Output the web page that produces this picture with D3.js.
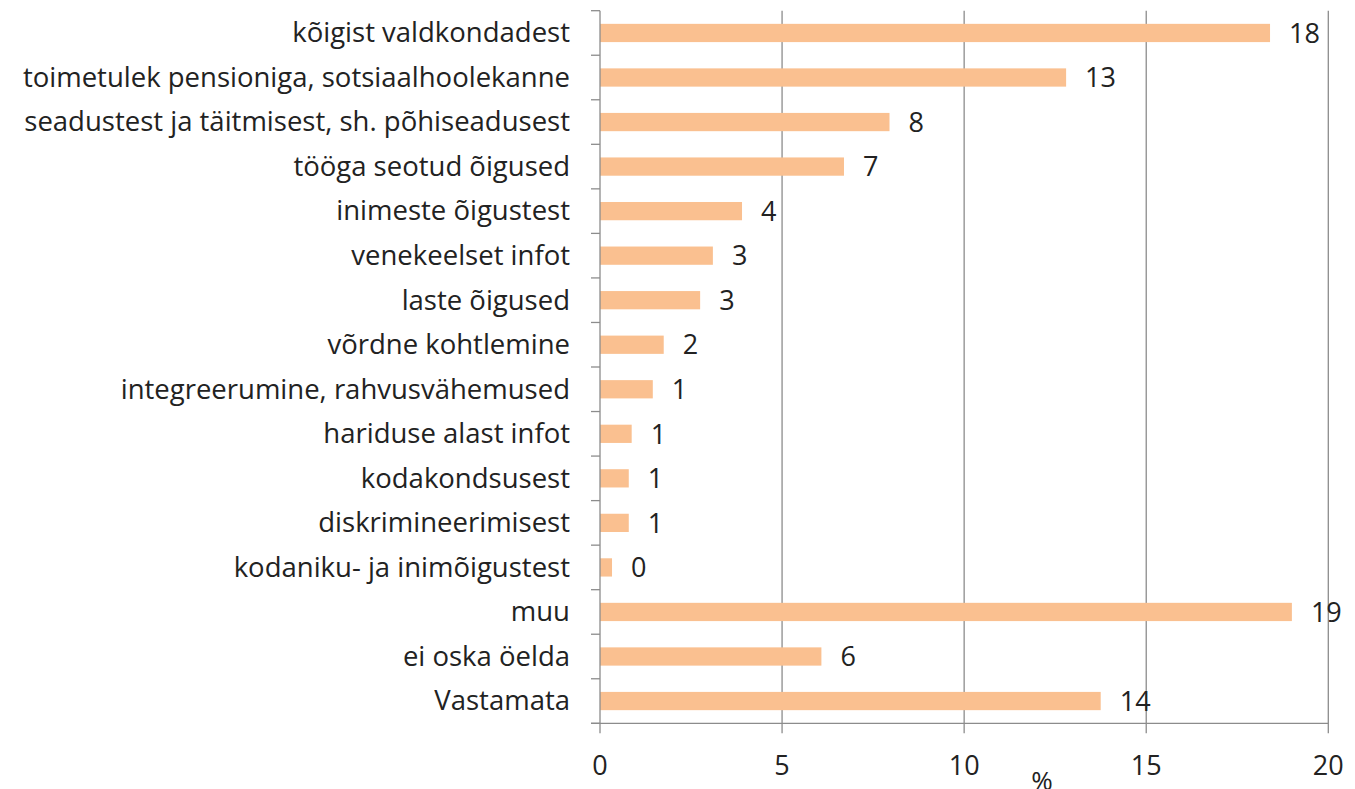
<!DOCTYPE html>
<meta charset="utf-8">
<style>
body { margin: 0; background: #fff; }
text { font-family: "Open Sans", sans-serif; fill: #222; }
.cat { font-size: 27.5px; text-anchor: end; }
.val { font-size: 27px; }
.tick-label { font-size: 27px; text-anchor: middle; }
</style>
<svg width="1355" height="789"></svg>
<script src="https://d3js.org/d3.v7.min.js"></script>
<script>

var categories = [
  "kõigist valdkondadest",
  "toimetulek pensioniga, sotsiaalhoolekanne",
  "seadustest ja täitmisest, sh. põhiseadusest",
  "tööga seotud õigused",
  "inimeste õigustest",
  "venekeelset infot",
  "laste õigused",
  "võrdne kohtlemine",
  "integreerumine, rahvusvähemused",
  "hariduse alast infot",
  "kodakondsusest",
  "diskrimineerimisest",
  "kodaniku- ja inimõigustest",
  "muu",
  "ei oska öelda",
  "Vastamata"
];
var values = [18.4, 12.8, 7.95, 6.7, 3.9, 3.1, 2.75, 1.75, 1.45, 0.87, 0.79, 0.79, 0.33, 19.0, 6.08, 13.75];
var xTicks = [0, 5, 10, 15, 20];

var svg = d3.select("svg"),
    plotLeft = 600, plotRight = 1328.3, plotTop = 10.7, plotBottom = 723.3;

var x = d3.scaleLinear().domain([0, 20]).range([plotLeft, plotRight]);
var y = d3.scaleBand().domain(categories).range([plotTop, plotBottom]).padding(0);

var g = svg.append("g");

// gridlines
g.selectAll(".grid")
  .data(xTicks.slice(1))
  .enter().append("line")
    .attr("x1", function(d) { return x(d); })
    .attr("x2", function(d) { return x(d); })
    .attr("y1", plotTop)
    .attr("y2", plotBottom + 10)
    .attr("stroke", "#8c8c8c")
    .attr("stroke-width", 1.3);

// bars
var bh = y.bandwidth() * 0.41;
g.selectAll(".bar")
  .data(values)
  .enter().append("rect")
    .attr("x", x(0))
    .attr("y", function(d, i) { return y(categories[i]) + y.bandwidth() / 2 - bh / 2; })
    .attr("width", function(d) { return x(d) - x(0); })
    .attr("height", bh)
    .attr("fill", "#FAC090");

// data labels
g.selectAll(".val")
  .data(values)
  .enter().append("text")
    .attr("class", "val")
    .attr("x", function(d) { return x(d) + 19; })
    .attr("y", function(d, i) { return y(categories[i]) + y.bandwidth() / 2; })
    .attr("dy", "0.36em")
    .text(function(d) { return Math.round(d); });

// category labels
g.selectAll(".cat")
  .data(categories)
  .enter().append("text")
    .attr("class", "cat")
    .attr("x", 570)
    .attr("y", function(d) { return y(d) + y.bandwidth() / 2; })
    .attr("dy", "0.34em")
    .text(function(d) { return d; });

// y axis line + ticks between categories
g.append("line")
  .attr("x1", plotLeft).attr("x2", plotLeft)
  .attr("y1", plotTop).attr("y2", plotBottom + 10)
  .attr("stroke", "#8c8c8c").attr("stroke-width", 1.3);
var bounds = categories.map(function(c) { return y(c); }).concat([plotBottom]);
g.selectAll(".ytick")
  .data(bounds)
  .enter().append("line")
    .attr("x1", plotLeft - 9).attr("x2", plotLeft)
    .attr("y1", function(d) { return d; })
    .attr("y2", function(d) { return d; })
    .attr("stroke", "#8c8c8c").attr("stroke-width", 1.3);

// x axis
g.append("line")
  .attr("x1", plotLeft - 9).attr("x2", plotRight)
  .attr("y1", plotBottom).attr("y2", plotBottom)
  .attr("stroke", "#8c8c8c").attr("stroke-width", 1.3);
g.selectAll(".tick-label")
  .data(xTicks)
  .enter().append("text")
    .attr("class", "tick-label")
    .attr("x", function(d) { return x(d); })
    .attr("y", 775)
    .text(function(d) { return d; });

g.append("text")
  .attr("x", 1042)
  .attr("y", 790)
  .attr("text-anchor", "middle")
  .style("font-size", "26px")
  .text("%");

</script>
